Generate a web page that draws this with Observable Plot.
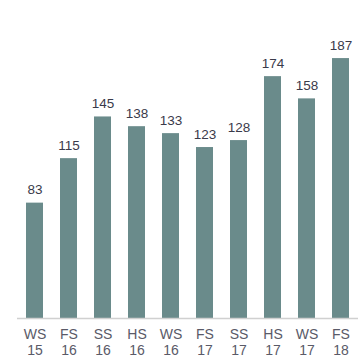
<!DOCTYPE html>
<html>
<head>
<meta charset="utf-8">
<script src="https://cdn.jsdelivr.net/npm/d3@7"></script>
<script src="https://cdn.jsdelivr.net/npm/@observablehq/plot@0.6"></script>
<style>
  html, body { margin: 0; padding: 0; background: #fff; }
  #chart svg { display: block; }
</style>
</head>
<body>
<div id="chart"></div>
<script>
const terms = ["WS\n15", "FS\n16", "SS\n16", "HS\n16", "WS\n16", "FS\n17", "SS\n17", "HS\n17", "WS\n17", "FS\n18"];
const values = [83, 115, 145, 138, 133, 123, 128, 174, 158, 187];

const data = terms.map((t, i) => ({term: t, value: values[i]}));

const chart = Plot.plot({
  width: 359,
  height: 359,
  marginTop: 40,
  marginBottom: 41,
  marginLeft: 17,
  marginRight: 1,
  style: {fontFamily: "Liberation Sans, Arial, sans-serif", background: "#fff"},
  x: {domain: terms, paddingInner: 0.5, paddingOuter: 0.25, label: null},
  y: {domain: [0, 200], axis: null},
  marks: [
    Plot.barY(data, {x: "term", y: "value", fill: "#6a8b8b"}),
    Plot.ruleY([0], {stroke: "#d0d0d0", strokeWidth: 1.5}),
    Plot.text(data, {x: "term", y: "value", text: d => String(d.value), dy: -13, fontSize: 13.5, fill: "#3a3a4a"}),
    Plot.axisX({tickSize: 0, tickPadding: 9, fontSize: 14, color: "#5a5a68", lineHeight: 1.15})
  ]
});
document.getElementById("chart").appendChild(chart);
</script>
</body>
</html>
